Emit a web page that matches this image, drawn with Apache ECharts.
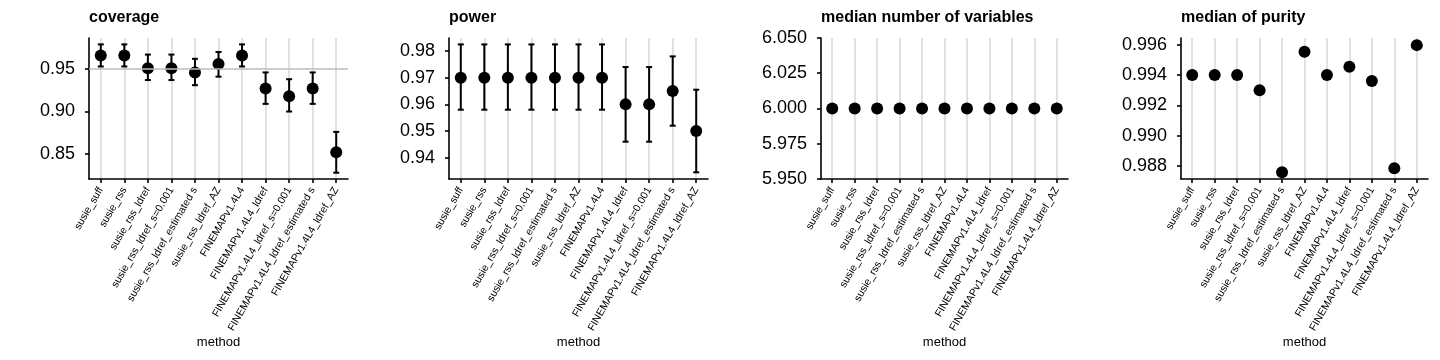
<!DOCTYPE html>
<html><head><meta charset="utf-8">
<script src="https://cdn.jsdelivr.net/npm/echarts@6/dist/echarts.min.js"></script>
<style>html,body{margin:0;padding:0;background:#fff}#c{width:1440px;height:360px}</style>
</head><body><div id="c"></div>
<script>
const methods = ['susie_suff','susie_rss','susie_rss_ldref','susie_rss_ldref_s=0.001','susie_rss_ldref_estimated s','susie_rss_ldref_AZ','FINEMAPv1.4L4','FINEMAPv1.4L4_ldref','FINEMAPv1.4L4_ldref_s=0.001','FINEMAPv1.4L4_ldref_estimated s','FINEMAPv1.4L4_ldref_AZ'];

const coverageMean = [0.966,0.966,0.951,0.951,0.946,0.956,0.966,0.927,0.918,0.927,0.852];
const coverageLow  = [0.953,0.953,0.937,0.937,0.931,0.941,0.953,0.909,0.900,0.909,0.828];
const coverageHigh = [0.979,0.979,0.967,0.967,0.962,0.970,0.979,0.946,0.938,0.946,0.876];
const coverageTicks = [0.85,0.90,0.95];
const coverageRef = 0.95;

const powerMean = [0.970,0.970,0.970,0.970,0.970,0.970,0.970,0.960,0.960,0.965,0.950];
const powerLow  = [0.958,0.958,0.958,0.958,0.958,0.958,0.958,0.946,0.946,0.952,0.9345];
const powerHigh = [0.9825,0.9825,0.9825,0.9825,0.9825,0.9825,0.9825,0.974,0.974,0.978,0.9655];
const powerTicks = [0.94,0.95,0.96,0.97,0.98];

const nvarMedian = [6,6,6,6,6,6,6,6,6,6,6];
const nvarTicks = [5.95,5.975,6.0,6.025,6.05];

const purityMedian = [0.9940,0.9940,0.9940,0.9930,0.98758,0.99554,0.9940,0.99455,0.9936,0.98785,0.99597];
const purityTicks = [0.988,0.990,0.992,0.994,0.996];

const FONT = '"Liberation Sans", Arial, Helvetica, sans-serif';
const panels = [
  {title:'coverage', left:89, width:259, min:0.8206, max:0.9865, ticks:coverageTicks, dec:2, mean:coverageMean, low:coverageLow, high:coverageHigh, ref:coverageRef},
  {title:'power', left:449, width:259, min:0.932, max:0.9849, ticks:powerTicks, dec:2, mean:powerMean, low:powerLow, high:powerHigh},
  {title:'median number of variables', left:821, width:247, min:5.95, max:6.05, ticks:nvarTicks, dec:3, mean:nvarMedian},
  {title:'median of purity', left:1181, width:247, min:0.98714, max:0.99644, ticks:purityTicks, dec:3, mean:purityMedian}
];
const TOP = 38, HEIGHT = 141;

const option = {
  animation:false,
  backgroundColor:'#fff',
  textStyle:{fontFamily:FONT},
  title: panels.map(p => ({text:p.title, left:p.left, top:10, padding:0, textStyle:{fontFamily:FONT, fontSize:16, fontWeight:'bold', color:'#000'}})),
  grid: panels.map(p => ({left:p.left, width:p.width, top:TOP, height:HEIGHT, containLabel:false})),
  xAxis: panels.map((p,i) => ({
    gridIndex:i, type:'category', data:methods, boundaryGap:true,
    name:'method', nameLocation:'middle', nameGap:152,
    nameTextStyle:{fontFamily:FONT, fontSize:13, color:'#000'},
    axisLine:{show:true, lineStyle:{color:'#000', width:1.6}},
    axisTick:{show:true, alignWithLabel:true, interval:0, length:4, lineStyle:{color:'#000', width:1.6}},
    axisLabel:{interval:0, rotate:60, fontSize:10.5, margin:9, color:'#000', fontFamily:FONT},
    splitLine:{show:true, alignWithLabel:true, interval:0, lineStyle:{color:'#dadada', width:1.6}}
  })),
  yAxis: panels.map((p,i) => ({
    gridIndex:i, type:'value', min:p.min, max:p.max, scale:true,
    axisLine:{show:true, lineStyle:{color:'#000', width:1.6}},
    axisTick:{show:true, length:4, customValues:p.ticks, lineStyle:{color:'#000', width:1.6}},
    axisLabel:{customValues:p.ticks, fontSize:18, margin:14, color:'#000', fontFamily:FONT, formatter:v => Number(v).toFixed(p.dec)},
    splitLine:{show:false}
  })),
  series: []
};

panels.forEach((p,i) => {
  if (p.ref !== undefined) {
    option.series.push({
      type:'line', xAxisIndex:i, yAxisIndex:i, data:[], z:1,
      markLine:{silent:true, symbol:'none', label:{show:false}, lineStyle:{color:'#bdbdbd', width:1.6, type:'solid'}, data:[{yAxis:p.ref}]}
    });
  }
  if (p.low) {
    option.series.push({
      type:'custom', xAxisIndex:i, yAxisIndex:i, z:3,
      data: methods.map((m,k) => [k, p.low[k], p.high[k]]),
      renderItem:(params, api) => {
        const x = api.value(0);
        const a = api.coord([x, api.value(1)]);
        const b = api.coord([x, api.value(2)]);
        const w = 3;
        const st = {stroke:'#000', lineWidth:2};
        return {type:'group', children:[
          {type:'line', shape:{x1:a[0], y1:a[1], x2:b[0], y2:b[1]}, style:st},
          {type:'line', shape:{x1:a[0]-w, y1:a[1], x2:a[0]+w, y2:a[1]}, style:st},
          {type:'line', shape:{x1:b[0]-w, y1:b[1], x2:b[0]+w, y2:b[1]}, style:st}
        ]};
      }
    });
  }
  option.series.push({
    type:'scatter', xAxisIndex:i, yAxisIndex:i, z:4,
    data: methods.map((m,k) => [m, p.mean[k]]),
    symbol:'circle', symbolSize:12, itemStyle:{color:'#000', opacity:1}
  });
});

const chart = echarts.init(document.getElementById('c'));
chart.setOption(option);
</script>
</body></html>
